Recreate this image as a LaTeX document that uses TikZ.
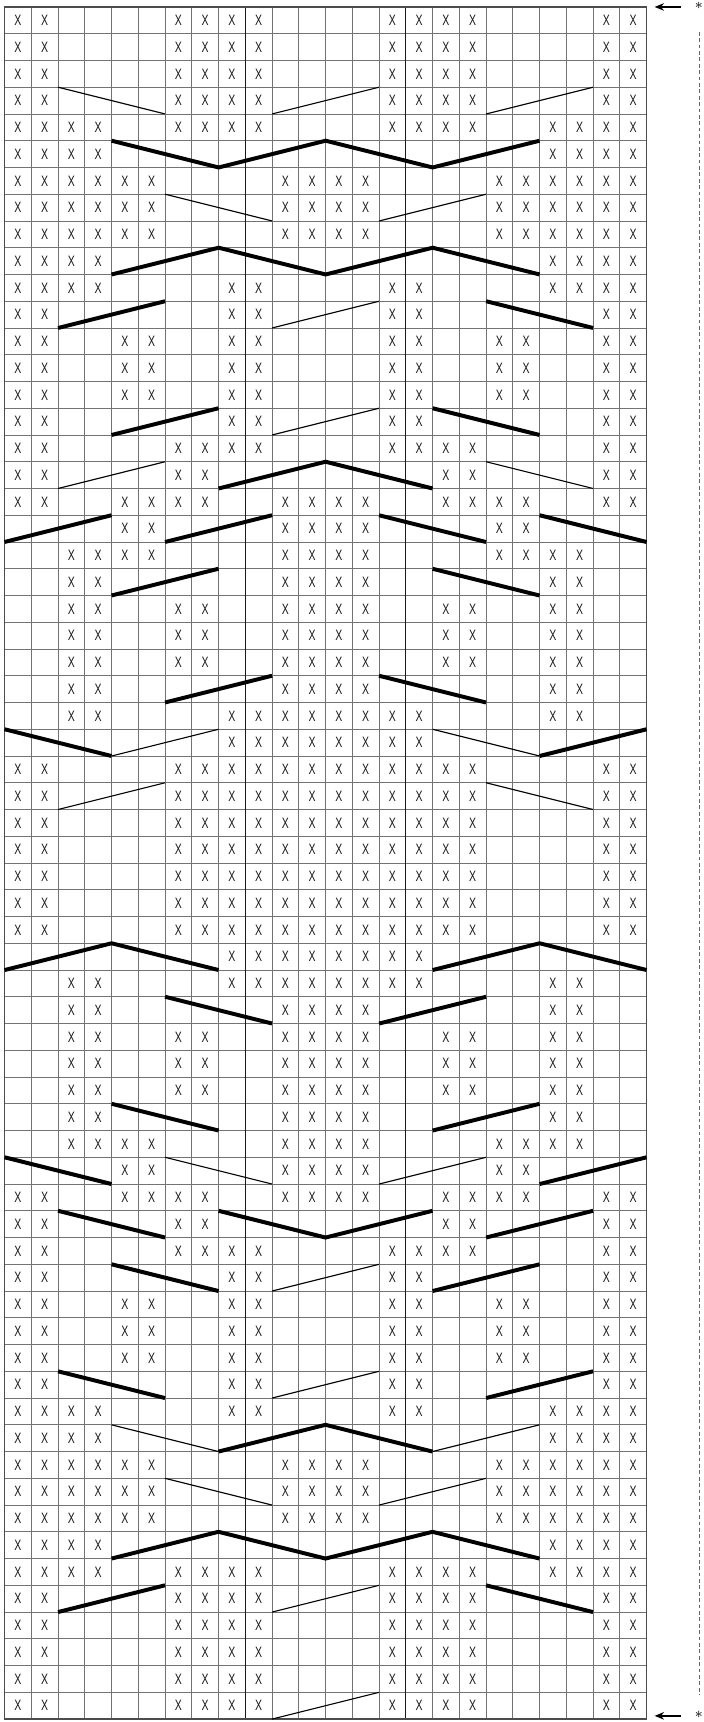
\documentclass[tikz,border=0pt]{standalone}
\usepackage{fontspec}
\setsansfont{Liberation Sans}
\usetikzlibrary{arrows.meta}
\tikzset{epais/.style={line width=2.1pt}, fin/.style={line width=0.6pt}}
\newcommand{\rang}[2]{\foreach \c in {#2} \node[croix] (x-#1-\c) at (\c-0.5,-#1+0.5) {X}}
\newcommand{\tresse}[2]{\draw[epais] (#1) -- (#2)}
\newcommand{\fil}[2]{\draw[fin] (#1) -- (#2)}

\begin{document}
\begin{tikzpicture}[scale = 1/2,
	croix/.style={font=\sffamily\fontsize{8}{8}\selectfont, xscale=0.7, inner sep=0pt, text=black!90},
	pointille/.style={black!60, line width=0.5pt, dash pattern=on 2pt off 1.4pt}]
\useasboundingbox (-0.17,0.26) rectangle (26.14,-64.11);
%Grid
	\draw[black!55, line width=0.45pt] (0,0) grid (24,-64);
	\draw[black!90, line width=0.7pt] (9,0) -- (9,-64);
	\draw[black!90, line width=0.7pt] (15,0) -- (15,-64);
	\draw[black!70, line width=0.7pt] (0,0) rectangle (24,-64);
%The stitches
	\foreach \r in {1,2,3,4,17,47,60,61,62,63,64} {\rang{\r}{1,2,7,8,9,10,15,16,17,18,23,24};}
	\foreach \r in {5,59} {\rang{\r}{1,2,3,4,7,8,9,10,15,16,17,18,21,22,23,24};}
	\foreach \r in {6,10,54,58} {\rang{\r}{1,2,3,4,21,22,23,24};}
	\foreach \r in {7,8,9,55,56,57} {\rang{\r}{1,2,3,4,5,6,11,12,13,14,19,20,21,22,23,24};}
	\foreach \r in {11,53} {\rang{\r}{1,2,3,4,9,10,15,16,21,22,23,24};}
	\foreach \r in {12,16,48,52} {\rang{\r}{1,2,9,10,15,16,23,24};}
	\foreach \r in {13,14,15,49,50,51} {\rang{\r}{1,2,5,6,9,10,15,16,19,20,23,24};}
	\foreach \r in {18,46} {\rang{\r}{1,2,7,8,17,18,23,24};}
	\foreach \r in {19,45} {\rang{\r}{1,2,5,6,7,8,11,12,13,14,17,18,19,20,23,24};}
	\foreach \r in {20,44} {\rang{\r}{5,6,11,12,13,14,19,20};}
	\foreach \r in {21,43} {\rang{\r}{3,4,5,6,11,12,13,14,19,20,21,22};}
	\foreach \r in {22,26,38,42} {\rang{\r}{3,4,11,12,13,14,21,22};}
	\foreach \r in {23,24,25,39,40,41} {\rang{\r}{3,4,7,8,11,12,13,14,17,18,21,22};}
	\foreach \r in {27,37} {\rang{\r}{3,4,9,10,11,12,13,14,15,16,21,22};}
	\foreach \r in {28,36} {\rang{\r}{9,10,11,12,13,14,15,16};}
	\foreach \r in {29,...,35} {\rang{\r}{1,2,7,8,9,10,11,12,13,14,15,16,17,18,23,24};}
%Thin crossings
	\fil{2,-3}{6,-4}; \fil{10,-4}{14,-3}; \fil{18,-4}{22,-3};
	\fil{6,-7}{10,-8}; \fil{14,-8}{18,-7};
	\fil{10,-12}{14,-11};
	\fil{10,-16}{14,-15};
	\fil{2,-18}{6,-17}; \fil{18,-17}{22,-18};
	\fil{4,-28}{8,-27}; \fil{16,-27}{20,-28};
	\fil{2,-30}{6,-29}; \fil{18,-29}{22,-30};
	\fil{6,-43}{10,-44}; \fil{14,-44}{18,-43};
	\fil{10,-48}{14,-47};
	\fil{10,-52}{14,-51};
	\fil{4,-53}{8,-54}; \fil{16,-54}{20,-53};
	\fil{6,-55}{10,-56}; \fil{14,-56}{18,-55};
	\fil{10,-60}{14,-59};
	\fil{10,-64}{14,-63};
%Thick crossings
	\draw[epais] (4,-5) -- (8,-6) -- (12,-5) -- (16,-6) -- (20,-5);
	\draw[epais] (4,-10) -- (8,-9) -- (12,-10) -- (16,-9) -- (20,-10);
	\tresse{2,-12}{6,-11}; \tresse{18,-11}{22,-12};
	\tresse{4,-16}{8,-15}; \tresse{16,-15}{20,-16};
	\draw[epais] (8,-18) -- (12,-17) -- (16,-18);
	\tresse{0,-20}{4,-19}; \tresse{6,-20}{10,-19}; \tresse{14,-19}{18,-20}; \tresse{20,-19}{24,-20};
	\tresse{4,-22}{8,-21}; \tresse{16,-21}{20,-22};
	\tresse{6,-26}{10,-25}; \tresse{14,-25}{18,-26};
	\tresse{0,-27}{4,-28}; \tresse{20,-28}{24,-27};
	\draw[epais] (0,-36) -- (4,-35) -- (8,-36);
	\draw[epais] (16,-36) -- (20,-35) -- (24,-36);
	\tresse{6,-37}{10,-38}; \tresse{14,-38}{18,-37};
	\tresse{4,-41}{8,-42}; \tresse{16,-42}{20,-41};
	\tresse{0,-43}{4,-44}; \tresse{20,-44}{24,-43};
	\tresse{2,-45}{6,-46}; \tresse{18,-46}{22,-45};
	\draw[epais] (8,-45) -- (12,-46) -- (16,-45);
	\tresse{4,-47}{8,-48}; \tresse{16,-48}{20,-47};
	\tresse{2,-51}{6,-52}; \tresse{18,-52}{22,-51};
	\draw[epais] (8,-54) -- (12,-53) -- (16,-54);
	\draw[epais] (4,-58) -- (8,-57) -- (12,-58) -- (16,-57) -- (20,-58);
	\tresse{2,-60}{6,-59}; \tresse{18,-59}{22,-60};
%Repeat marks
	\node[font=\footnotesize, inner sep=0pt] (etoile-h) at (25.95,-0.05) {*};
	\node[font=\footnotesize, inner sep=0pt] (etoile-b) at (25.95,-63.93) {*};
	\coordinate (depart-h) at (25.3,0);
	\coordinate (pointe-h) at (24.3,0);
	\coordinate (depart-b) at (25.3,-63.88);
	\coordinate (pointe-b) at (24.3,-63.88);
	\draw[-{Stealth[length=5pt,width=4pt]}, line width=0.9pt] (depart-h) -- (pointe-h);
	\draw[-{Stealth[length=5pt,width=4pt]}, line width=0.9pt] (depart-b) -- (pointe-b);
	\draw[pointille] (25.98,-0.93) -- (25.98,-63.1);
\end{tikzpicture}
\end{document}
